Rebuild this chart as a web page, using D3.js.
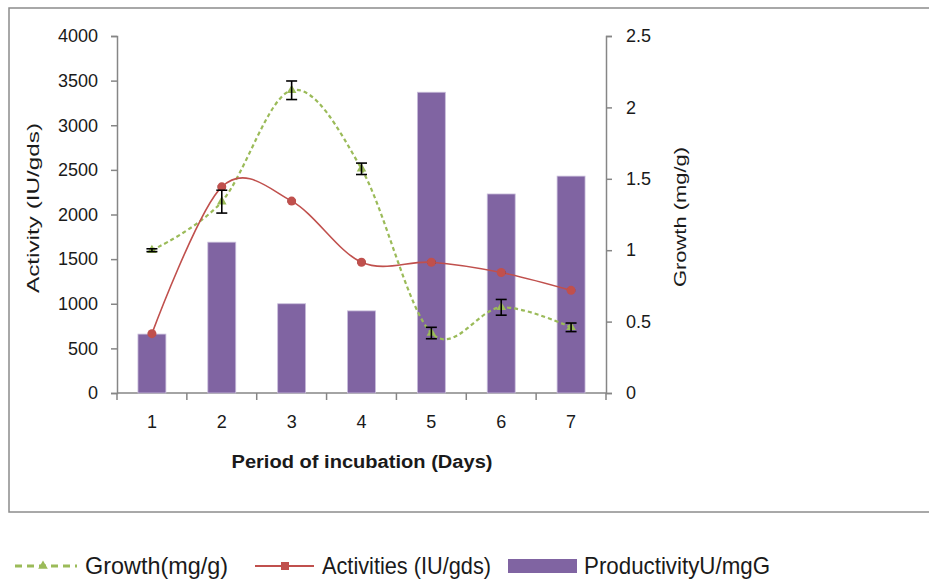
<!DOCTYPE html>
<html>
<head>
<meta charset="utf-8">
<script src="https://cdn.jsdelivr.net/npm/d3@7"></script>
<style>
  body { margin: 0; background: #fff; }
  svg { display: block; font-family: "Liberation Sans", Arial, sans-serif; }
</style>
</head>
<body>
<div id="chart"></div>
<script>
const days = ['1', '2', '3', '4', '5', '6', '7'];
const productivity = [660, 1690, 1000, 920, 3370, 2230, 2430];
const activities = [665, 2310, 2150, 1465, 1465, 1350, 1150];
const activityErr = [8, 10, 8, 8, 8, 8, 8];
const growth = [1.0, 1.34, 2.12, 1.57, 0.42, 0.6, 0.46];
const growthErr = [0.01, 0.08, 0.065, 0.04, 0.04, 0.055, 0.03];
const leftTicks = [0, 500, 1000, 1500, 2000, 2500, 3000, 3500, 4000];
const rightTicks = [0, 0.5, 1, 1.5, 2, 2.5];

const W = 929, H = 581;
const plot = { left: 117, right: 606, top: 36, bottom: 393 };

const svg = d3.select('#chart').append('svg')
  .attr('width', W).attr('height', H);

// outer frame (right edge runs off the picture)
svg.append('rect')
  .attr('x', 9).attr('y', 8).attr('width', 960).attr('height', 504)
  .attr('fill', 'none').attr('stroke', '#8c8c8c').attr('stroke-width', 1.5);

const x = d3.scaleBand().domain(days)
  .range([plot.left, plot.right]).paddingInner(0.6).paddingOuter(0.3);
const yL = d3.scaleLinear().domain([0, 4000]).range([plot.bottom, plot.top]);
const yR = d3.scaleLinear().domain([0, 2.5]).range([plot.bottom, plot.top]);
const cx = (d) => x(d) + x.bandwidth() / 2;

const axisColor = '#868686';
const styleAxis = (g) => {
  g.select('.domain').attr('stroke', axisColor).attr('stroke-width', 1.5);
  g.selectAll('.tick line').attr('stroke', axisColor).attr('stroke-width', 1.5);
  g.selectAll('text').attr('fill', '#1a1a1a').attr('font-size', 18)
    .attr('font-family', '"Liberation Sans", Arial, sans-serif');
};

svg.append('g').attr('transform', `translate(${plot.left},0)`)
  .call(d3.axisLeft(yL).tickValues(leftTicks).tickSize(6).tickPadding(13).tickSizeOuter(6)
    .tickFormat(d3.format('d')))
  .call(styleAxis);

svg.append('g').attr('transform', `translate(${plot.right},0)`)
  .call(d3.axisRight(yR).tickValues(rightTicks).tickSize(6).tickPadding(14).tickSizeOuter(6)
    .tickFormat((d) => String(d)))
  .call(styleAxis);

// x axis: ticks sit between categories
const step = x.step();
const xStart = x(days[0]) - x.paddingOuter() * step;
const xAxisG = svg.append('g').attr('transform', `translate(0,${plot.bottom})`);
xAxisG.call(d3.axisBottom(x).tickSize(0).tickPadding(22)).call(styleAxis);
xAxisG.select('.domain').attr('d', `M${plot.left},0H${plot.right}`);
xAxisG.selectAll('.bound').data(d3.range(days.length + 1)).join('line')
  .attr('x1', (i) => xStart + i * step).attr('x2', (i) => xStart + i * step)
  .attr('y1', 0).attr('y2', 7).attr('stroke', axisColor).attr('stroke-width', 1.5);

// bars
svg.append('g').selectAll('rect').data(productivity).join('rect')
  .attr('x', (d, i) => x(days[i])).attr('width', x.bandwidth())
  .attr('y', (d) => yL(d)).attr('height', (d) => yL(0) - yL(d))
  .attr('fill', '#8064a2').attr('stroke', '#c9bedb').attr('stroke-width', 0.8);

// growth line
const gLine = d3.line().curve(d3.curveCardinal.tension(0))
  .x((d, i) => cx(days[i])).y((d) => yR(d));
svg.append('path').attr('d', gLine(growth)).attr('fill', 'none')
  .attr('stroke', '#9bbb59').attr('stroke-width', 2.2).attr('stroke-dasharray', '4,3');

// activities line
const aLine = d3.line().curve(d3.curveCardinal.tension(0))
  .x((d, i) => cx(days[i])).y((d) => yL(d));
svg.append('path').attr('d', aLine(activities)).attr('fill', 'none')
  .attr('stroke', '#c0504d').attr('stroke-width', 1.6);

// error bars
function errorBars(vals, errs, scale, cap) {
  const g = svg.append('g').attr('stroke', '#000').attr('stroke-width', 1.6);
  vals.forEach((v, i) => {
    const px = cx(days[i]);
    const y1 = scale(v + errs[i]), y2 = scale(v - errs[i]);
    g.append('line').attr('x1', px).attr('x2', px).attr('y1', y1).attr('y2', y2);
    g.append('line').attr('x1', px - cap).attr('x2', px + cap).attr('y1', y1).attr('y2', y1);
    g.append('line').attr('x1', px - cap).attr('x2', px + cap).attr('y1', y2).attr('y2', y2);
  });
}
errorBars(activities, activityErr, yL, 4);

// markers
svg.append('g').selectAll('circle').data(activities).join('circle')
  .attr('cx', (d, i) => cx(days[i])).attr('cy', (d) => yL(d)).attr('r', 4.5)
  .attr('fill', '#c0504d');
const tri = d3.symbol().type(d3.symbolTriangle).size(40);
svg.append('g').selectAll('path').data(growth).join('path')
  .attr('d', tri)
  .attr('transform', (d, i) => `translate(${cx(days[i])},${yR(d)})`)
  .attr('fill', '#9bbb59');

errorBars(growth, growthErr, yR, 5.5);

// axis titles
svg.append('text').attr('x', 362).attr('y', 468).attr('text-anchor', 'middle')
  .attr('font-size', 18).attr('font-weight', 'bold').attr('fill', '#1a1a1a')
  .attr('textLength', 261).attr('lengthAdjust', 'spacingAndGlyphs')
  .text('Period of incubation (Days)');
svg.append('text').attr('transform', 'translate(39,208) rotate(-90)')
  .attr('text-anchor', 'middle').attr('font-size', 17).attr('fill', '#1a1a1a')
  .attr('textLength', 170).attr('lengthAdjust', 'spacingAndGlyphs')
  .text('Activity (IU/gds)');
svg.append('text').attr('transform', 'translate(686,217) rotate(-90)')
  .attr('text-anchor', 'middle').attr('font-size', 17).attr('fill', '#1a1a1a')
  .attr('textLength', 140).attr('lengthAdjust', 'spacingAndGlyphs')
  .text('Growth (mg/g)');

// legend
const legY = 566;
const leg = svg.append('g');
leg.append('line').attr('x1', 15).attr('x2', 77).attr('y1', legY).attr('y2', legY)
  .attr('stroke', '#9bbb59').attr('stroke-width', 3).attr('stroke-dasharray', '7,5');
leg.append('path').attr('d', tri).attr('transform', `translate(43,${legY})`).attr('fill', '#9bbb59');
leg.append('text').attr('x', 85).attr('y', legY + 8).attr('font-size', 24).attr('fill', '#1a1a1a')
  .attr('textLength', 143).attr('lengthAdjust', 'spacingAndGlyphs').text('Growth(mg/g)');
leg.append('line').attr('x1', 255).attr('x2', 314).attr('y1', legY).attr('y2', legY)
  .attr('stroke', '#c0504d').attr('stroke-width', 2);
leg.append('rect').attr('x', 281).attr('y', legY - 4).attr('width', 8).attr('height', 8).attr('fill', '#c0504d');
leg.append('text').attr('x', 322).attr('y', legY + 8).attr('font-size', 24).attr('fill', '#1a1a1a')
  .attr('textLength', 169).attr('lengthAdjust', 'spacingAndGlyphs').text('Activities (IU/gds)');
leg.append('rect').attr('x', 508).attr('y', legY - 7).attr('width', 69).attr('height', 14).attr('fill', '#8064a2');
leg.append('text').attr('x', 584).attr('y', legY + 8).attr('font-size', 24).attr('fill', '#1a1a1a')
  .attr('textLength', 186).attr('lengthAdjust', 'spacingAndGlyphs').text('ProductivityU/mgG');
</script>
</body>
</html>
